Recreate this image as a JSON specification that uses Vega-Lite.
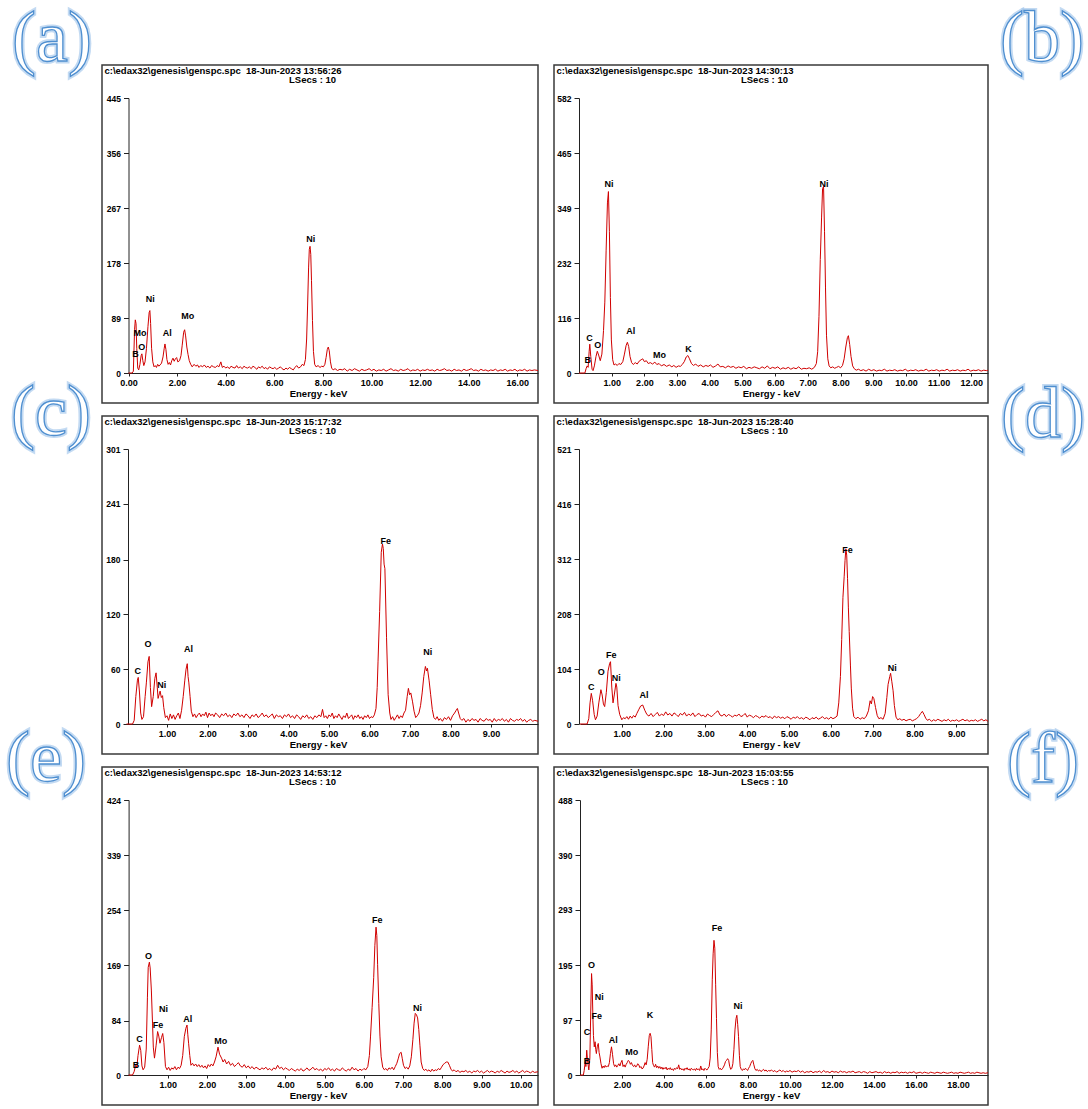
{
"$schema": "https://vega.github.io/schema/vega-lite/v6.json",
"background": "white",
"padding": {"left": 5, "top": 2, "right": 0, "bottom": 0},
"config": {
  "view": {"stroke": "#3a3a3a", "strokeWidth": 1.5},
  "axis": {"grid": false, "domainColor": "#222", "domainWidth": 1, "tickColor": "#222", "labelFont": "Liberation Sans", "labelFontWeight": "bold", "labelColor": "#000", "titleFont": "Liberation Sans", "titleFontWeight": "bold", "titleFontSize": 9.5, "titleColor": "#000", "labelFlush": false, "labelOverlap": false},
  "axisX": {"tickSize": 3, "labelFontSize": 9, "labelPadding": 2, "titlePadding": 1},
  "axisY": {"tickSize": 5, "labelFontSize": 8.5, "labelPadding": 3},
  "text": {"font": "Liberation Sans"}
},
"datasets": {
"A": [{"e":0,"c":0},{"e":0.15,"c":0},{"e":0.2,"c":3},{"e":0.22,"c":30},{"e":0.25,"c":70},{"e":0.28,"c":86},{"e":0.31,"c":80},{"e":0.34,"c":40},{"e":0.38,"c":8},{"e":0.42,"c":5},{"e":0.47,"c":14},{"e":0.52,"c":28},{"e":0.55,"c":31},{"e":0.59,"c":20},{"e":0.63,"c":12},{"e":0.68,"c":18},{"e":0.74,"c":40},{"e":0.8,"c":75},{"e":0.85,"c":98},{"e":0.88,"c":101},{"e":0.91,"c":80},{"e":0.95,"c":40},{"e":1.0,"c":18},{"e":1.05,"c":10},{"e":1.1,"c":12},{"e":1.15,"c":9},{"e":1.2,"c":14},{"e":1.25,"c":11},{"e":1.3,"c":13},{"e":1.36,"c":16},{"e":1.42,"c":26},{"e":1.47,"c":40},{"e":1.5,"c":47},{"e":1.54,"c":38},{"e":1.58,"c":22},{"e":1.63,"c":14},{"e":1.68,"c":17},{"e":1.73,"c":13},{"e":1.78,"c":20},{"e":1.83,"c":24},{"e":1.88,"c":19},{"e":1.93,"c":23},{"e":1.98,"c":25},{"e":2.03,"c":18},{"e":2.1,"c":20},{"e":2.16,"c":28},{"e":2.21,"c":45},{"e":2.27,"c":66},{"e":2.31,"c":70},{"e":2.35,"c":60},{"e":2.4,"c":42},{"e":2.45,"c":30},{"e":2.5,"c":20},{"e":2.56,"c":14},{"e":2.62,"c":10},{"e":2.7,"c":14},{"e":2.77,"c":11},{"e":2.84,"c":13},{"e":2.9,"c":9},{"e":2.97,"c":12},{"e":3.05,"c":10},{"e":3.12,"c":13},{"e":3.2,"c":9},{"e":3.27,"c":11},{"e":3.35,"c":8},{"e":3.42,"c":12},{"e":3.5,"c":10},{"e":3.58,"c":9},{"e":3.65,"c":12},{"e":3.72,"c":10},{"e":3.8,"c":18},{"e":3.86,"c":9},{"e":3.93,"c":11},{"e":4.0,"c":8},{"e":4.08,"c":10},{"e":4.15,"c":7},{"e":4.22,"c":11},{"e":4.3,"c":9},{"e":4.38,"c":8},{"e":4.45,"c":12},{"e":4.52,"c":8},{"e":4.6,"c":10},{"e":4.68,"c":7},{"e":4.75,"c":11},{"e":4.82,"c":9},{"e":4.9,"c":8},{"e":4.97,"c":10},{"e":5.05,"c":7},{"e":5.12,"c":11},{"e":5.2,"c":9},{"e":5.28,"c":6},{"e":5.35,"c":10},{"e":5.42,"c":8},{"e":5.5,"c":11},{"e":5.58,"c":7},{"e":5.65,"c":9},{"e":5.72,"c":6},{"e":5.8,"c":10},{"e":5.88,"c":8},{"e":5.95,"c":7},{"e":6.02,"c":9},{"e":6.1,"c":6},{"e":6.18,"c":8},{"e":6.25,"c":10},{"e":6.32,"c":7},{"e":6.4,"c":5},{"e":6.48,"c":8},{"e":6.55,"c":6},{"e":6.62,"c":9},{"e":6.7,"c":7},{"e":6.78,"c":5},{"e":6.85,"c":9},{"e":6.92,"c":12},{"e":7.0,"c":8},{"e":7.08,"c":10},{"e":7.15,"c":14},{"e":7.22,"c":12},{"e":7.28,"c":22},{"e":7.33,"c":55},{"e":7.37,"c":110},{"e":7.41,"c":170},{"e":7.44,"c":200},{"e":7.47,"c":205},{"e":7.5,"c":192},{"e":7.53,"c":150},{"e":7.57,"c":85},{"e":7.61,"c":35},{"e":7.66,"c":14},{"e":7.72,"c":10},{"e":7.8,"c":12},{"e":7.88,"c":9},{"e":7.95,"c":11},{"e":8.02,"c":10},{"e":8.08,"c":14},{"e":8.13,"c":25},{"e":8.18,"c":38},{"e":8.22,"c":42},{"e":8.26,"c":36},{"e":8.31,"c":18},{"e":8.36,"c":8},{"e":8.42,"c":5},{"e":8.5,"c":7},{"e":8.6,"c":4},{"e":8.7,"c":6},{"e":8.8,"c":5},{"e":8.9,"c":7},{"e":9.0,"c":3},{"e":9.1,"c":6},{"e":9.2,"c":4},{"e":9.3,"c":7},{"e":9.4,"c":5},{"e":9.5,"c":3},{"e":9.6,"c":6},{"e":9.7,"c":4},{"e":9.8,"c":5},{"e":9.9,"c":7},{"e":10.0,"c":4},{"e":10.1,"c":6},{"e":10.2,"c":3},{"e":10.3,"c":5},{"e":10.4,"c":4},{"e":10.5,"c":6},{"e":10.6,"c":3},{"e":10.7,"c":5},{"e":10.8,"c":7},{"e":10.9,"c":4},{"e":11.0,"c":5},{"e":11.1,"c":3},{"e":11.2,"c":6},{"e":11.3,"c":4},{"e":11.4,"c":5},{"e":11.5,"c":7},{"e":11.6,"c":3},{"e":11.7,"c":5},{"e":11.8,"c":4},{"e":11.9,"c":6},{"e":12.0,"c":3},{"e":12.1,"c":5},{"e":12.2,"c":4},{"e":12.3,"c":6},{"e":12.4,"c":4},{"e":12.5,"c":5},{"e":12.6,"c":3},{"e":12.7,"c":6},{"e":12.8,"c":4},{"e":12.9,"c":5},{"e":13.0,"c":7},{"e":13.1,"c":4},{"e":13.2,"c":5},{"e":13.3,"c":3},{"e":13.4,"c":6},{"e":13.5,"c":4},{"e":13.6,"c":5},{"e":13.7,"c":3},{"e":13.8,"c":6},{"e":13.9,"c":4},{"e":14.0,"c":5},{"e":14.1,"c":7},{"e":14.2,"c":4},{"e":14.3,"c":5},{"e":14.4,"c":3},{"e":14.5,"c":6},{"e":14.6,"c":4},{"e":14.7,"c":5},{"e":14.8,"c":3},{"e":14.9,"c":5},{"e":15.0,"c":4},{"e":15.1,"c":6},{"e":15.2,"c":3},{"e":15.3,"c":5},{"e":15.4,"c":4},{"e":15.5,"c":6},{"e":15.6,"c":3},{"e":15.7,"c":5},{"e":15.8,"c":4},{"e":15.9,"c":6},{"e":16.0,"c":3},{"e":16.1,"c":5},{"e":16.2,"c":4},{"e":16.3,"c":6},{"e":16.4,"c":3},{"e":16.5,"c":5},{"e":16.6,"c":4},{"e":16.7,"c":5},{"e":16.85,"c":4}],
"B": [{"e":0,"c":0},{"e":0.18,"c":0},{"e":0.22,"c":10},{"e":0.25,"c":15},{"e":0.28,"c":12},{"e":0.31,"c":45},{"e":0.33,"c":61},{"e":0.36,"c":35},{"e":0.4,"c":8},{"e":0.43,"c":5},{"e":0.47,"c":15},{"e":0.52,"c":35},{"e":0.56,"c":46},{"e":0.6,"c":38},{"e":0.65,"c":26},{"e":0.7,"c":40},{"e":0.75,"c":90},{"e":0.79,"c":150},{"e":0.83,"c":260},{"e":0.87,"c":360},{"e":0.9,"c":384},{"e":0.93,"c":300},{"e":0.96,"c":160},{"e":0.99,"c":70},{"e":1.03,"c":28},{"e":1.07,"c":17},{"e":1.12,"c":19},{"e":1.17,"c":16},{"e":1.22,"c":20},{"e":1.28,"c":18},{"e":1.34,"c":24},{"e":1.39,"c":40},{"e":1.44,"c":58},{"e":1.48,"c":65},{"e":1.52,"c":56},{"e":1.56,"c":35},{"e":1.61,"c":22},{"e":1.66,"c":18},{"e":1.72,"c":22},{"e":1.78,"c":19},{"e":1.84,"c":25},{"e":1.9,"c":28},{"e":1.95,"c":30},{"e":2.0,"c":24},{"e":2.06,"c":26},{"e":2.12,"c":20},{"e":2.18,"c":22},{"e":2.25,"c":19},{"e":2.32,"c":23},{"e":2.38,"c":18},{"e":2.45,"c":20},{"e":2.52,"c":15},{"e":2.6,"c":18},{"e":2.68,"c":14},{"e":2.76,"c":17},{"e":2.84,"c":13},{"e":2.9,"c":16},{"e":2.97,"c":12},{"e":3.04,"c":15},{"e":3.1,"c":14},{"e":3.16,"c":18},{"e":3.22,"c":24},{"e":3.28,"c":34},{"e":3.33,"c":37},{"e":3.38,"c":30},{"e":3.44,"c":20},{"e":3.5,"c":16},{"e":3.57,"c":19},{"e":3.64,"c":14},{"e":3.72,"c":17},{"e":3.8,"c":13},{"e":3.88,"c":16},{"e":3.95,"c":14},{"e":4.02,"c":17},{"e":4.1,"c":12},{"e":4.18,"c":15},{"e":4.25,"c":19},{"e":4.32,"c":13},{"e":4.4,"c":14},{"e":4.48,"c":11},{"e":4.56,"c":15},{"e":4.64,"c":12},{"e":4.72,"c":14},{"e":4.8,"c":10},{"e":4.88,"c":13},{"e":4.96,"c":11},{"e":5.04,"c":14},{"e":5.12,"c":9},{"e":5.2,"c":12},{"e":5.28,"c":10},{"e":5.36,"c":13},{"e":5.44,"c":11},{"e":5.52,"c":9},{"e":5.6,"c":13},{"e":5.68,"c":10},{"e":5.76,"c":15},{"e":5.84,"c":9},{"e":5.92,"c":12},{"e":6.0,"c":10},{"e":6.08,"c":13},{"e":6.16,"c":8},{"e":6.24,"c":11},{"e":6.32,"c":9},{"e":6.4,"c":12},{"e":6.48,"c":8},{"e":6.56,"c":11},{"e":6.64,"c":9},{"e":6.72,"c":13},{"e":6.8,"c":8},{"e":6.88,"c":10},{"e":6.96,"c":9},{"e":7.04,"c":11},{"e":7.12,"c":8},{"e":7.2,"c":12},{"e":7.26,"c":20},{"e":7.3,"c":45},{"e":7.34,"c":120},{"e":7.38,"c":240},{"e":7.42,"c":330},{"e":7.45,"c":390},{"e":7.48,"c":395},{"e":7.51,"c":300},{"e":7.54,"c":180},{"e":7.57,"c":80},{"e":7.61,"c":30},{"e":7.65,"c":15},{"e":7.7,"c":11},{"e":7.76,"c":13},{"e":7.82,"c":10},{"e":7.88,"c":12},{"e":7.94,"c":14},{"e":8.0,"c":11},{"e":8.06,"c":16},{"e":8.11,"c":30},{"e":8.16,"c":55},{"e":8.21,"c":75},{"e":8.24,"c":79},{"e":8.28,"c":60},{"e":8.32,"c":35},{"e":8.37,"c":15},{"e":8.42,"c":9},{"e":8.48,"c":6},{"e":8.55,"c":8},{"e":8.62,"c":5},{"e":8.7,"c":7},{"e":8.78,"c":4},{"e":8.86,"c":8},{"e":8.94,"c":5},{"e":9.02,"c":7},{"e":9.1,"c":4},{"e":9.18,"c":6},{"e":9.26,"c":5},{"e":9.34,"c":8},{"e":9.42,"c":4},{"e":9.5,"c":6},{"e":9.58,"c":5},{"e":9.66,"c":7},{"e":9.74,"c":4},{"e":9.82,"c":6},{"e":9.9,"c":5},{"e":9.98,"c":8},{"e":10.06,"c":4},{"e":10.14,"c":6},{"e":10.22,"c":5},{"e":10.3,"c":7},{"e":10.38,"c":4},{"e":10.46,"c":6},{"e":10.54,"c":5},{"e":10.62,"c":8},{"e":10.7,"c":4},{"e":10.78,"c":6},{"e":10.86,"c":5},{"e":10.94,"c":7},{"e":11.02,"c":4},{"e":11.1,"c":6},{"e":11.18,"c":5},{"e":11.26,"c":8},{"e":11.34,"c":4},{"e":11.42,"c":6},{"e":11.5,"c":5},{"e":11.58,"c":7},{"e":11.66,"c":4},{"e":11.74,"c":6},{"e":11.82,"c":5},{"e":11.9,"c":8},{"e":11.98,"c":4},{"e":12.06,"c":6},{"e":12.14,"c":5},{"e":12.22,"c":7},{"e":12.3,"c":4},{"e":12.38,"c":6},{"e":12.46,"c":5},{"e":12.51,"c":6}],
"C": [{"e":0,"c":0},{"e":0.15,"c":0},{"e":0.19,"c":4},{"e":0.23,"c":30},{"e":0.27,"c":48},{"e":0.29,"c":51},{"e":0.32,"c":35},{"e":0.35,"c":12},{"e":0.38,"c":5},{"e":0.42,"c":8},{"e":0.46,"c":30},{"e":0.49,"c":45},{"e":0.53,"c":68},{"e":0.56,"c":74},{"e":0.59,"c":40},{"e":0.62,"c":19},{"e":0.66,"c":30},{"e":0.7,"c":50},{"e":0.73,"c":56},{"e":0.76,"c":40},{"e":0.78,"c":28},{"e":0.81,"c":33},{"e":0.83,"c":36},{"e":0.86,"c":29},{"e":0.89,"c":31},{"e":0.92,"c":18},{"e":0.96,"c":7},{"e":1.0,"c":9},{"e":1.04,"c":4},{"e":1.08,"c":11},{"e":1.12,"c":6},{"e":1.16,"c":10},{"e":1.2,"c":5},{"e":1.24,"c":9},{"e":1.28,"c":12},{"e":1.32,"c":6},{"e":1.36,"c":15},{"e":1.4,"c":30},{"e":1.44,"c":48},{"e":1.47,"c":60},{"e":1.5,"c":66},{"e":1.52,"c":52},{"e":1.54,"c":45},{"e":1.57,"c":30},{"e":1.6,"c":14},{"e":1.64,"c":8},{"e":1.68,"c":11},{"e":1.72,"c":7},{"e":1.76,"c":10},{"e":1.8,"c":12},{"e":1.84,"c":8},{"e":1.88,"c":11},{"e":1.92,"c":9},{"e":1.96,"c":13},{"e":2.0,"c":7},{"e":2.04,"c":12},{"e":2.08,"c":9},{"e":2.12,"c":11},{"e":2.16,"c":8},{"e":2.2,"c":12},{"e":2.25,"c":10},{"e":2.3,"c":7},{"e":2.35,"c":11},{"e":2.4,"c":9},{"e":2.45,"c":12},{"e":2.5,"c":8},{"e":2.55,"c":10},{"e":2.6,"c":7},{"e":2.65,"c":11},{"e":2.7,"c":9},{"e":2.75,"c":12},{"e":2.8,"c":8},{"e":2.85,"c":10},{"e":2.9,"c":7},{"e":2.95,"c":11},{"e":3.0,"c":9},{"e":3.05,"c":6},{"e":3.1,"c":10},{"e":3.15,"c":8},{"e":3.2,"c":11},{"e":3.25,"c":7},{"e":3.3,"c":9},{"e":3.35,"c":12},{"e":3.4,"c":8},{"e":3.45,"c":10},{"e":3.5,"c":7},{"e":3.55,"c":9},{"e":3.6,"c":11},{"e":3.65,"c":6},{"e":3.7,"c":10},{"e":3.75,"c":8},{"e":3.8,"c":9},{"e":3.85,"c":6},{"e":3.9,"c":10},{"e":3.95,"c":8},{"e":4.0,"c":11},{"e":4.05,"c":7},{"e":4.1,"c":9},{"e":4.15,"c":6},{"e":4.2,"c":10},{"e":4.25,"c":8},{"e":4.3,"c":5},{"e":4.35,"c":9},{"e":4.4,"c":7},{"e":4.45,"c":10},{"e":4.5,"c":6},{"e":4.55,"c":8},{"e":4.6,"c":5},{"e":4.65,"c":9},{"e":4.7,"c":7},{"e":4.75,"c":10},{"e":4.8,"c":8},{"e":4.84,"c":16},{"e":4.88,"c":7},{"e":4.92,"c":9},{"e":4.96,"c":6},{"e":5.0,"c":10},{"e":5.04,"c":8},{"e":5.08,"c":12},{"e":5.12,"c":6},{"e":5.16,"c":9},{"e":5.2,"c":7},{"e":5.24,"c":11},{"e":5.28,"c":8},{"e":5.32,"c":5},{"e":5.36,"c":9},{"e":5.4,"c":7},{"e":5.44,"c":12},{"e":5.48,"c":6},{"e":5.52,"c":8},{"e":5.56,"c":10},{"e":5.6,"c":5},{"e":5.64,"c":9},{"e":5.68,"c":7},{"e":5.72,"c":10},{"e":5.76,"c":6},{"e":5.8,"c":8},{"e":5.84,"c":5},{"e":5.88,"c":9},{"e":5.92,"c":7},{"e":5.96,"c":10},{"e":6.0,"c":6},{"e":6.04,"c":8},{"e":6.08,"c":7},{"e":6.12,"c":10},{"e":6.16,"c":17},{"e":6.19,"c":40},{"e":6.21,"c":68},{"e":6.25,"c":123},{"e":6.29,"c":188},{"e":6.32,"c":197},{"e":6.34,"c":192},{"e":6.36,"c":175},{"e":6.38,"c":170},{"e":6.42,"c":95},{"e":6.46,"c":32},{"e":6.5,"c":12},{"e":6.53,"c":5},{"e":6.57,"c":8},{"e":6.61,"c":4},{"e":6.65,"c":7},{"e":6.69,"c":10},{"e":6.73,"c":6},{"e":6.77,"c":9},{"e":6.81,"c":7},{"e":6.85,"c":12},{"e":6.89,"c":15},{"e":6.93,"c":30},{"e":6.96,"c":39},{"e":6.99,"c":32},{"e":7.02,"c":34},{"e":7.06,"c":25},{"e":7.1,"c":14},{"e":7.14,"c":7},{"e":7.18,"c":9},{"e":7.22,"c":12},{"e":7.26,"c":20},{"e":7.3,"c":34},{"e":7.34,"c":52},{"e":7.38,"c":63},{"e":7.41,"c":58},{"e":7.43,"c":61},{"e":7.47,"c":48},{"e":7.51,"c":32},{"e":7.55,"c":16},{"e":7.59,"c":7},{"e":7.63,"c":5},{"e":7.67,"c":8},{"e":7.71,"c":4},{"e":7.75,"c":6},{"e":7.8,"c":3},{"e":7.85,"c":7},{"e":7.9,"c":5},{"e":7.95,"c":8},{"e":8.0,"c":4},{"e":8.05,"c":9},{"e":8.1,"c":12},{"e":8.14,"c":15},{"e":8.17,"c":17},{"e":8.2,"c":12},{"e":8.24,"c":6},{"e":8.28,"c":4},{"e":8.33,"c":6},{"e":8.38,"c":2},{"e":8.43,"c":5},{"e":8.48,"c":3},{"e":8.53,"c":6},{"e":8.58,"c":4},{"e":8.63,"c":5},{"e":8.68,"c":2},{"e":8.73,"c":6},{"e":8.78,"c":4},{"e":8.83,"c":3},{"e":8.88,"c":6},{"e":8.93,"c":4},{"e":8.98,"c":5},{"e":9.03,"c":2},{"e":9.08,"c":6},{"e":9.13,"c":3},{"e":9.18,"c":5},{"e":9.23,"c":4},{"e":9.28,"c":6},{"e":9.33,"c":3},{"e":9.38,"c":5},{"e":9.43,"c":2},{"e":9.48,"c":6},{"e":9.53,"c":4},{"e":9.58,"c":3},{"e":9.63,"c":5},{"e":9.68,"c":4},{"e":9.73,"c":6},{"e":9.78,"c":3},{"e":9.83,"c":5},{"e":9.88,"c":2},{"e":9.93,"c":4},{"e":9.98,"c":5},{"e":10.03,"c":3},{"e":10.08,"c":4},{"e":10.16,"c":3}],
"D": [{"e":0,"c":0},{"e":0.17,"c":0},{"e":0.21,"c":10},{"e":0.24,"c":40},{"e":0.27,"c":58},{"e":0.3,"c":45},{"e":0.34,"c":18},{"e":0.37,"c":8},{"e":0.41,"c":15},{"e":0.45,"c":40},{"e":0.5,"c":65},{"e":0.53,"c":55},{"e":0.56,"c":38},{"e":0.59,"c":33},{"e":0.63,"c":60},{"e":0.67,"c":100},{"e":0.71,"c":115},{"e":0.73,"c":118},{"e":0.76,"c":70},{"e":0.79,"c":40},{"e":0.82,"c":55},{"e":0.86,"c":77},{"e":0.88,"c":70},{"e":0.91,"c":35},{"e":0.95,"c":18},{"e":1.0,"c":8},{"e":1.04,"c":12},{"e":1.08,"c":10},{"e":1.12,"c":14},{"e":1.16,"c":9},{"e":1.2,"c":15},{"e":1.24,"c":11},{"e":1.28,"c":16},{"e":1.32,"c":13},{"e":1.36,"c":20},{"e":1.41,"c":28},{"e":1.45,"c":34},{"e":1.5,"c":36},{"e":1.55,"c":26},{"e":1.6,"c":18},{"e":1.65,"c":15},{"e":1.7,"c":20},{"e":1.75,"c":14},{"e":1.8,"c":18},{"e":1.85,"c":22},{"e":1.9,"c":15},{"e":1.95,"c":19},{"e":2.0,"c":16},{"e":2.05,"c":23},{"e":2.1,"c":17},{"e":2.15,"c":20},{"e":2.2,"c":15},{"e":2.25,"c":21},{"e":2.3,"c":18},{"e":2.35,"c":14},{"e":2.4,"c":20},{"e":2.45,"c":17},{"e":2.5,"c":22},{"e":2.55,"c":15},{"e":2.6,"c":19},{"e":2.65,"c":16},{"e":2.7,"c":21},{"e":2.75,"c":14},{"e":2.8,"c":18},{"e":2.85,"c":20},{"e":2.9,"c":15},{"e":2.95,"c":17},{"e":3.0,"c":13},{"e":3.05,"c":19},{"e":3.1,"c":16},{"e":3.15,"c":14},{"e":3.2,"c":18},{"e":3.25,"c":22},{"e":3.3,"c":25},{"e":3.35,"c":17},{"e":3.4,"c":15},{"e":3.45,"c":19},{"e":3.5,"c":14},{"e":3.55,"c":18},{"e":3.6,"c":16},{"e":3.65,"c":13},{"e":3.7,"c":17},{"e":3.75,"c":15},{"e":3.8,"c":19},{"e":3.85,"c":14},{"e":3.9,"c":16},{"e":3.95,"c":20},{"e":4.0,"c":13},{"e":4.05,"c":17},{"e":4.1,"c":15},{"e":4.15,"c":12},{"e":4.2,"c":16},{"e":4.25,"c":14},{"e":4.3,"c":11},{"e":4.35,"c":15},{"e":4.4,"c":13},{"e":4.45,"c":16},{"e":4.5,"c":12},{"e":4.55,"c":14},{"e":4.6,"c":10},{"e":4.65,"c":15},{"e":4.7,"c":12},{"e":4.75,"c":14},{"e":4.8,"c":11},{"e":4.85,"c":13},{"e":4.9,"c":10},{"e":4.95,"c":14},{"e":5.0,"c":12},{"e":5.05,"c":9},{"e":5.1,"c":13},{"e":5.15,"c":11},{"e":5.2,"c":14},{"e":5.25,"c":10},{"e":5.3,"c":12},{"e":5.35,"c":9},{"e":5.4,"c":13},{"e":5.45,"c":11},{"e":5.5,"c":8},{"e":5.55,"c":12},{"e":5.6,"c":10},{"e":5.65,"c":13},{"e":5.7,"c":9},{"e":5.75,"c":11},{"e":5.8,"c":14},{"e":5.85,"c":10},{"e":5.9,"c":12},{"e":5.95,"c":9},{"e":6.0,"c":13},{"e":6.05,"c":10},{"e":6.1,"c":12},{"e":6.15,"c":15},{"e":6.19,"c":40},{"e":6.23,"c":90},{"e":6.26,"c":160},{"e":6.29,"c":240},{"e":6.32,"c":280},{"e":6.34,"c":310},{"e":6.36,"c":332},{"e":6.38,"c":320},{"e":6.4,"c":276},{"e":6.42,"c":220},{"e":6.44,"c":175},{"e":6.47,"c":110},{"e":6.49,"c":68},{"e":6.52,"c":30},{"e":6.55,"c":14},{"e":6.6,"c":10},{"e":6.65,"c":13},{"e":6.7,"c":9},{"e":6.75,"c":12},{"e":6.8,"c":10},{"e":6.85,"c":15},{"e":6.9,"c":25},{"e":6.94,"c":44},{"e":6.97,"c":38},{"e":7.0,"c":52},{"e":7.03,"c":48},{"e":7.07,"c":31},{"e":7.11,"c":16},{"e":7.15,"c":10},{"e":7.2,"c":12},{"e":7.25,"c":9},{"e":7.3,"c":20},{"e":7.34,"c":50},{"e":7.37,"c":75},{"e":7.41,"c":90},{"e":7.43,"c":96},{"e":7.46,"c":80},{"e":7.49,"c":63},{"e":7.52,"c":35},{"e":7.56,"c":13},{"e":7.6,"c":8},{"e":7.65,"c":10},{"e":7.7,"c":7},{"e":7.75,"c":9},{"e":7.8,"c":6},{"e":7.85,"c":8},{"e":7.9,"c":9},{"e":7.95,"c":6},{"e":8.0,"c":8},{"e":8.05,"c":10},{"e":8.1,"c":14},{"e":8.15,"c":20},{"e":8.19,"c":24},{"e":8.23,"c":18},{"e":8.27,"c":11},{"e":8.31,"c":7},{"e":8.36,"c":9},{"e":8.41,"c":5},{"e":8.46,"c":8},{"e":8.51,"c":6},{"e":8.56,"c":9},{"e":8.61,"c":7},{"e":8.66,"c":5},{"e":8.71,"c":8},{"e":8.76,"c":6},{"e":8.81,"c":9},{"e":8.86,"c":5},{"e":8.91,"c":7},{"e":8.96,"c":6},{"e":9.01,"c":8},{"e":9.06,"c":5},{"e":9.11,"c":7},{"e":9.16,"c":9},{"e":9.21,"c":6},{"e":9.26,"c":8},{"e":9.31,"c":5},{"e":9.36,"c":7},{"e":9.41,"c":6},{"e":9.46,"c":8},{"e":9.51,"c":5},{"e":9.56,"c":7},{"e":9.61,"c":9},{"e":9.66,"c":6},{"e":9.71,"c":8},{"e":9.76,"c":5}],
"E": [{"e":0,"c":0},{"e":0.1,"c":0},{"e":0.14,"c":5},{"e":0.18,"c":15},{"e":0.21,"c":12},{"e":0.24,"c":30},{"e":0.28,"c":46},{"e":0.31,"c":38},{"e":0.34,"c":14},{"e":0.37,"c":8},{"e":0.41,"c":12},{"e":0.45,"c":40},{"e":0.48,"c":120},{"e":0.5,"c":166},{"e":0.53,"c":174},{"e":0.55,"c":165},{"e":0.58,"c":131},{"e":0.61,"c":80},{"e":0.63,"c":43},{"e":0.66,"c":26},{"e":0.7,"c":45},{"e":0.74,"c":67},{"e":0.77,"c":60},{"e":0.8,"c":49},{"e":0.84,"c":58},{"e":0.87,"c":64},{"e":0.9,"c":50},{"e":0.94,"c":13},{"e":0.98,"c":8},{"e":1.02,"c":12},{"e":1.06,"c":7},{"e":1.1,"c":11},{"e":1.14,"c":9},{"e":1.18,"c":13},{"e":1.22,"c":8},{"e":1.26,"c":12},{"e":1.3,"c":10},{"e":1.34,"c":15},{"e":1.38,"c":30},{"e":1.42,"c":59},{"e":1.46,"c":72},{"e":1.49,"c":77},{"e":1.51,"c":62},{"e":1.53,"c":49},{"e":1.56,"c":30},{"e":1.59,"c":15},{"e":1.63,"c":18},{"e":1.67,"c":14},{"e":1.71,"c":17},{"e":1.75,"c":13},{"e":1.79,"c":16},{"e":1.83,"c":12},{"e":1.87,"c":15},{"e":1.91,"c":11},{"e":1.95,"c":14},{"e":1.99,"c":10},{"e":2.03,"c":16},{"e":2.07,"c":13},{"e":2.11,"c":17},{"e":2.15,"c":14},{"e":2.19,"c":20},{"e":2.23,"c":28},{"e":2.28,"c":43},{"e":2.32,"c":32},{"e":2.37,"c":26},{"e":2.41,"c":20},{"e":2.45,"c":24},{"e":2.5,"c":17},{"e":2.55,"c":21},{"e":2.6,"c":15},{"e":2.65,"c":18},{"e":2.7,"c":13},{"e":2.75,"c":16},{"e":2.8,"c":19},{"e":2.85,"c":14},{"e":2.9,"c":12},{"e":2.95,"c":16},{"e":3.0,"c":11},{"e":3.05,"c":14},{"e":3.1,"c":10},{"e":3.15,"c":13},{"e":3.2,"c":9},{"e":3.25,"c":12},{"e":3.3,"c":10},{"e":3.35,"c":8},{"e":3.4,"c":11},{"e":3.45,"c":9},{"e":3.5,"c":12},{"e":3.55,"c":8},{"e":3.6,"c":10},{"e":3.65,"c":7},{"e":3.7,"c":11},{"e":3.75,"c":9},{"e":3.8,"c":15},{"e":3.85,"c":10},{"e":3.9,"c":12},{"e":3.95,"c":8},{"e":4.0,"c":11},{"e":4.05,"c":9},{"e":4.1,"c":7},{"e":4.15,"c":10},{"e":4.2,"c":8},{"e":4.25,"c":6},{"e":4.3,"c":9},{"e":4.35,"c":7},{"e":4.4,"c":10},{"e":4.45,"c":6},{"e":4.5,"c":8},{"e":4.55,"c":11},{"e":4.6,"c":7},{"e":4.65,"c":9},{"e":4.7,"c":12},{"e":4.75,"c":8},{"e":4.8,"c":10},{"e":4.85,"c":7},{"e":4.9,"c":9},{"e":4.95,"c":6},{"e":5.0,"c":10},{"e":5.05,"c":8},{"e":5.1,"c":11},{"e":5.15,"c":7},{"e":5.2,"c":9},{"e":5.25,"c":6},{"e":5.3,"c":10},{"e":5.35,"c":8},{"e":5.4,"c":7},{"e":5.45,"c":11},{"e":5.5,"c":8},{"e":5.55,"c":6},{"e":5.6,"c":9},{"e":5.65,"c":7},{"e":5.7,"c":12},{"e":5.75,"c":8},{"e":5.8,"c":10},{"e":5.85,"c":6},{"e":5.9,"c":9},{"e":5.95,"c":7},{"e":6.0,"c":10},{"e":6.05,"c":8},{"e":6.1,"c":13},{"e":6.14,"c":30},{"e":6.17,"c":60},{"e":6.21,"c":104},{"e":6.25,"c":150},{"e":6.28,"c":200},{"e":6.31,"c":228},{"e":6.33,"c":215},{"e":6.35,"c":170},{"e":6.38,"c":110},{"e":6.41,"c":60},{"e":6.44,"c":28},{"e":6.48,"c":12},{"e":6.52,"c":8},{"e":6.56,"c":10},{"e":6.6,"c":7},{"e":6.64,"c":11},{"e":6.68,"c":9},{"e":6.72,"c":12},{"e":6.76,"c":8},{"e":6.8,"c":13},{"e":6.84,"c":18},{"e":6.88,"c":26},{"e":6.91,"c":33},{"e":6.95,"c":35},{"e":6.98,"c":25},{"e":7.01,"c":15},{"e":7.05,"c":10},{"e":7.09,"c":12},{"e":7.13,"c":9},{"e":7.17,"c":14},{"e":7.21,"c":28},{"e":7.25,"c":55},{"e":7.28,"c":80},{"e":7.31,"c":95},{"e":7.34,"c":93},{"e":7.37,"c":88},{"e":7.4,"c":70},{"e":7.43,"c":45},{"e":7.46,"c":20},{"e":7.5,"c":10},{"e":7.54,"c":7},{"e":7.58,"c":9},{"e":7.62,"c":6},{"e":7.66,"c":8},{"e":7.7,"c":5},{"e":7.74,"c":9},{"e":7.78,"c":6},{"e":7.82,"c":8},{"e":7.86,"c":7},{"e":7.9,"c":10},{"e":7.94,"c":8},{"e":7.98,"c":12},{"e":8.02,"c":16},{"e":8.06,"c":18},{"e":8.1,"c":20},{"e":8.14,"c":20},{"e":8.18,"c":15},{"e":8.22,"c":9},{"e":8.26,"c":6},{"e":8.3,"c":8},{"e":8.35,"c":5},{"e":8.4,"c":7},{"e":8.45,"c":4},{"e":8.5,"c":6},{"e":8.55,"c":5},{"e":8.6,"c":7},{"e":8.65,"c":4},{"e":8.7,"c":6},{"e":8.75,"c":3},{"e":8.8,"c":6},{"e":8.85,"c":5},{"e":8.9,"c":7},{"e":8.95,"c":4},{"e":9.0,"c":6},{"e":9.05,"c":3},{"e":9.1,"c":5},{"e":9.15,"c":7},{"e":9.2,"c":4},{"e":9.25,"c":6},{"e":9.3,"c":5},{"e":9.35,"c":3},{"e":9.4,"c":6},{"e":9.45,"c":4},{"e":9.5,"c":7},{"e":9.55,"c":5},{"e":9.6,"c":3},{"e":9.65,"c":6},{"e":9.7,"c":4},{"e":9.75,"c":5},{"e":9.8,"c":7},{"e":9.85,"c":4},{"e":9.9,"c":6},{"e":9.95,"c":3},{"e":10.0,"c":5},{"e":10.05,"c":7},{"e":10.1,"c":4},{"e":10.15,"c":6},{"e":10.2,"c":5},{"e":10.25,"c":3},{"e":10.3,"c":6},{"e":10.35,"c":4},{"e":10.44,"c":5}],
"F": [{"e":0,"c":0},{"e":0.16,"c":0},{"e":0.2,"c":8},{"e":0.25,"c":24},{"e":0.28,"c":15},{"e":0.32,"c":44},{"e":0.36,"c":25},{"e":0.42,"c":9},{"e":0.47,"c":30},{"e":0.51,"c":110},{"e":0.55,"c":180},{"e":0.58,"c":160},{"e":0.61,"c":110},{"e":0.64,"c":70},{"e":0.68,"c":50},{"e":0.72,"c":59},{"e":0.75,"c":45},{"e":0.78,"c":38},{"e":0.82,"c":50},{"e":0.87,"c":56},{"e":0.91,"c":40},{"e":0.95,"c":32},{"e":1.0,"c":20},{"e":1.05,"c":12},{"e":1.1,"c":16},{"e":1.15,"c":13},{"e":1.2,"c":17},{"e":1.25,"c":14},{"e":1.3,"c":16},{"e":1.35,"c":15},{"e":1.4,"c":22},{"e":1.45,"c":38},{"e":1.5,"c":50},{"e":1.55,"c":36},{"e":1.6,"c":20},{"e":1.65,"c":15},{"e":1.7,"c":18},{"e":1.75,"c":14},{"e":1.8,"c":17},{"e":1.85,"c":20},{"e":1.9,"c":16},{"e":1.95,"c":22},{"e":2.0,"c":26},{"e":2.05,"c":15},{"e":2.1,"c":18},{"e":2.15,"c":14},{"e":2.2,"c":19},{"e":2.25,"c":22},{"e":2.3,"c":26},{"e":2.35,"c":24},{"e":2.4,"c":19},{"e":2.45,"c":22},{"e":2.5,"c":17},{"e":2.55,"c":15},{"e":2.6,"c":18},{"e":2.65,"c":14},{"e":2.7,"c":16},{"e":2.75,"c":20},{"e":2.8,"c":18},{"e":2.85,"c":13},{"e":2.9,"c":15},{"e":2.95,"c":11},{"e":3.0,"c":12},{"e":3.05,"c":16},{"e":3.1,"c":22},{"e":3.15,"c":18},{"e":3.2,"c":28},{"e":3.25,"c":50},{"e":3.3,"c":70},{"e":3.34,"c":74},{"e":3.38,"c":68},{"e":3.42,"c":45},{"e":3.46,"c":22},{"e":3.5,"c":17},{"e":3.55,"c":14},{"e":3.6,"c":19},{"e":3.65,"c":13},{"e":3.7,"c":16},{"e":3.75,"c":12},{"e":3.8,"c":15},{"e":3.85,"c":11},{"e":3.9,"c":14},{"e":3.95,"c":10},{"e":4.0,"c":13},{"e":4.05,"c":11},{"e":4.1,"c":14},{"e":4.15,"c":9},{"e":4.2,"c":12},{"e":4.25,"c":10},{"e":4.3,"c":13},{"e":4.35,"c":9},{"e":4.4,"c":11},{"e":4.45,"c":8},{"e":4.5,"c":12},{"e":4.55,"c":10},{"e":4.6,"c":13},{"e":4.65,"c":11},{"e":4.7,"c":18},{"e":4.75,"c":10},{"e":4.8,"c":12},{"e":4.85,"c":9},{"e":4.9,"c":11},{"e":4.95,"c":8},{"e":5.0,"c":12},{"e":5.05,"c":10},{"e":5.1,"c":13},{"e":5.15,"c":9},{"e":5.2,"c":11},{"e":5.25,"c":8},{"e":5.3,"c":12},{"e":5.35,"c":10},{"e":5.4,"c":9},{"e":5.45,"c":11},{"e":5.5,"c":8},{"e":5.55,"c":12},{"e":5.6,"c":9},{"e":5.65,"c":11},{"e":5.7,"c":8},{"e":5.75,"c":16},{"e":5.8,"c":9},{"e":5.85,"c":11},{"e":5.9,"c":8},{"e":5.95,"c":12},{"e":6.0,"c":10},{"e":6.05,"c":9},{"e":6.1,"c":12},{"e":6.15,"c":15},{"e":6.2,"c":30},{"e":6.25,"c":80},{"e":6.3,"c":170},{"e":6.34,"c":215},{"e":6.38,"c":239},{"e":6.42,"c":225},{"e":6.46,"c":160},{"e":6.5,"c":100},{"e":6.54,"c":40},{"e":6.58,"c":15},{"e":6.63,"c":10},{"e":6.68,"c":12},{"e":6.73,"c":9},{"e":6.78,"c":11},{"e":6.83,"c":14},{"e":6.88,"c":18},{"e":6.93,"c":24},{"e":6.98,"c":26},{"e":7.03,"c":29},{"e":7.08,"c":26},{"e":7.13,"c":15},{"e":7.18,"c":10},{"e":7.23,"c":12},{"e":7.28,"c":20},{"e":7.33,"c":45},{"e":7.38,"c":80},{"e":7.43,"c":100},{"e":7.47,"c":106},{"e":7.51,"c":90},{"e":7.55,"c":68},{"e":7.59,"c":35},{"e":7.63,"c":15},{"e":7.68,"c":10},{"e":7.73,"c":8},{"e":7.78,"c":11},{"e":7.83,"c":9},{"e":7.88,"c":12},{"e":7.93,"c":10},{"e":7.98,"c":8},{"e":8.03,"c":12},{"e":8.08,"c":15},{"e":8.13,"c":20},{"e":8.18,"c":24},{"e":8.23,"c":26},{"e":8.28,"c":18},{"e":8.33,"c":11},{"e":8.38,"c":8},{"e":8.44,"c":10},{"e":8.5,"c":7},{"e":8.56,"c":9},{"e":8.62,"c":6},{"e":8.68,"c":8},{"e":8.74,"c":10},{"e":8.8,"c":7},{"e":8.86,"c":9},{"e":8.92,"c":6},{"e":8.98,"c":8},{"e":9.05,"c":7},{"e":9.12,"c":9},{"e":9.2,"c":6},{"e":9.28,"c":8},{"e":9.36,"c":5},{"e":9.44,"c":7},{"e":9.52,"c":9},{"e":9.6,"c":6},{"e":9.68,"c":8},{"e":9.76,"c":5},{"e":9.84,"c":7},{"e":9.92,"c":6},{"e":10.0,"c":8},{"e":10.1,"c":5},{"e":10.2,"c":7},{"e":10.3,"c":6},{"e":10.4,"c":8},{"e":10.5,"c":5},{"e":10.6,"c":7},{"e":10.7,"c":4},{"e":10.8,"c":6},{"e":10.9,"c":5},{"e":11.0,"c":7},{"e":11.1,"c":4},{"e":11.2,"c":6},{"e":11.3,"c":5},{"e":11.4,"c":7},{"e":11.5,"c":4},{"e":11.6,"c":8},{"e":11.7,"c":5},{"e":11.8,"c":6},{"e":11.9,"c":4},{"e":12.0,"c":7},{"e":12.1,"c":5},{"e":12.2,"c":6},{"e":12.3,"c":4},{"e":12.4,"c":7},{"e":12.5,"c":5},{"e":12.6,"c":6},{"e":12.7,"c":4},{"e":12.8,"c":6},{"e":12.9,"c":5},{"e":13.0,"c":7},{"e":13.1,"c":4},{"e":13.2,"c":5},{"e":13.3,"c":6},{"e":13.4,"c":4},{"e":13.5,"c":6},{"e":13.6,"c":5},{"e":13.7,"c":3},{"e":13.8,"c":6},{"e":13.9,"c":4},{"e":14.0,"c":5},{"e":14.1,"c":6},{"e":14.2,"c":4},{"e":14.3,"c":5},{"e":14.4,"c":3},{"e":14.5,"c":6},{"e":14.6,"c":4},{"e":14.7,"c":5},{"e":14.8,"c":3},{"e":14.9,"c":5},{"e":15.0,"c":4},{"e":15.1,"c":6},{"e":15.2,"c":3},{"e":15.3,"c":5},{"e":15.4,"c":4},{"e":15.5,"c":5},{"e":15.6,"c":3},{"e":15.7,"c":5},{"e":15.8,"c":4},{"e":15.9,"c":6},{"e":16.0,"c":3},{"e":16.1,"c":4},{"e":16.2,"c":5},{"e":16.3,"c":3},{"e":16.4,"c":5},{"e":16.5,"c":4},{"e":16.6,"c":3},{"e":16.7,"c":5},{"e":16.8,"c":4},{"e":16.9,"c":3},{"e":17.0,"c":5},{"e":17.1,"c":4},{"e":17.2,"c":3},{"e":17.3,"c":5},{"e":17.4,"c":4},{"e":17.5,"c":3},{"e":17.6,"c":4},{"e":17.7,"c":5},{"e":17.8,"c":3},{"e":17.9,"c":4},{"e":18.0,"c":3},{"e":18.1,"c":5},{"e":18.2,"c":4},{"e":18.3,"c":3},{"e":18.4,"c":4},{"e":18.5,"c":5},{"e":18.6,"c":3},{"e":18.7,"c":4},{"e":18.8,"c":3},{"e":18.9,"c":5},{"e":19.0,"c":4},{"e":19.1,"c":3},{"e":19.2,"c":4},{"e":19.3,"c":3},{"e":19.43,"c":4}],
"labels": [
{"p":"a","t":"B","e":0.29,"c":30},{"p":"a","t":"Mo","e":0.47,"c":64},{"p":"a","t":"O","e":0.55,"c":42},{"p":"a","t":"Ni","e":0.9,"c":120},{"p":"a","t":"Al","e":1.59,"c":64},{"p":"a","t":"Mo","e":2.44,"c":92},{"p":"a","t":"Ni","e":7.5,"c":217},
{"p":"b","t":"B","e":0.27,"c":28},{"p":"b","t":"C","e":0.32,"c":75},{"p":"b","t":"O","e":0.57,"c":59},{"p":"b","t":"Ni","e":0.92,"c":401},{"p":"b","t":"Al","e":1.58,"c":88},{"p":"b","t":"Mo","e":2.46,"c":38},{"p":"b","t":"K","e":3.35,"c":51},{"p":"b","t":"Ni","e":7.49,"c":401},
{"p":"c","t":"C","e":0.28,"c":58},{"p":"c","t":"O","e":0.53,"c":88},{"p":"c","t":"Ni","e":0.87,"c":43},{"p":"c","t":"Al","e":1.53,"c":82},{"p":"c","t":"Fe","e":6.4,"c":200},{"p":"c","t":"Ni","e":7.44,"c":79},
{"p":"d","t":"C","e":0.27,"c":71},{"p":"d","t":"O","e":0.51,"c":98},{"p":"d","t":"Fe","e":0.75,"c":130},{"p":"d","t":"Ni","e":0.87,"c":87},{"p":"d","t":"Al","e":1.53,"c":55},{"p":"d","t":"Fe","e":6.4,"c":329},{"p":"d","t":"Ni","e":7.47,"c":107},
{"p":"e","t":"B","e":0.19,"c":15},{"p":"e","t":"C","e":0.28,"c":55},{"p":"e","t":"O","e":0.51,"c":184},{"p":"e","t":"Fe","e":0.75,"c":77},{"p":"e","t":"Ni","e":0.89,"c":102},{"p":"e","t":"Al","e":1.51,"c":87},{"p":"e","t":"Mo","e":2.35,"c":53},{"p":"e","t":"Fe","e":6.34,"c":239},{"p":"e","t":"Ni","e":7.37,"c":104},
{"p":"f","t":"B","e":0.33,"c":24},{"p":"f","t":"C","e":0.33,"c":77},{"p":"f","t":"O","e":0.55,"c":195},{"p":"f","t":"Fe","e":0.8,"c":104},{"p":"f","t":"Ni","e":0.92,"c":138},{"p":"f","t":"Al","e":1.58,"c":62},{"p":"f","t":"Mo","e":2.47,"c":41},{"p":"f","t":"K","e":3.33,"c":106},{"p":"f","t":"Fe","e":6.53,"c":261},{"p":"f","t":"Ni","e":7.53,"c":122}
]
},
"columns": 2,
"spacing": {"row": 13, "column": 16},
"bounds": "flush",
"concat": [
{"width": 436, "height": 338, "layer": [
 {"data": {"name": "A"}, "mark": {"type": "line", "color": "#d00000", "strokeWidth": 1},
  "encoding": {"x": {"field": "e", "type": "quantitative", "scale": {"domain": [0, 16.85], "range": [26.5, 436], "nice": false, "zero": false}, "axis": {"values": [0,2,4,6,8,10,12,14,16], "tickCount": 20, "format": ".2f", "title": "Energy - keV", "offset": -30, "titleX": 216, "labelOverlap": false}},
   "y": {"field": "c", "type": "quantitative", "scale": {"domain": [0, 445], "range": [308, 33], "nice": false, "zero": false}, "axis": {"values": [0,89,178,267,356,445], "tickCount": 10, "format": "d", "title": null, "offset": -26.5, "labelOverlap": false}}}},
 {"data": {"name": "labels"}, "transform": [{"filter": "datum.p == 'a'"}], "mark": {"type": "text", "fontSize": 9, "fontWeight": "bold", "color": "#000"},
  "encoding": {"x": {"field": "e", "type": "quantitative"}, "y": {"field": "c", "type": "quantitative"}, "text": {"field": "t"}}},
 {"data": {"values": [{}]}, "mark": {"type": "text", "align": "left", "baseline": "middle", "fontSize": 9.5, "fontWeight": "bold", "color": "#000"},
  "encoding": {"x": {"datum": -0.988, "type": "quantitative"}, "y": {"datum": 488.7, "type": "quantitative"}, "text": {"value": "c:\\edax32\\genesis\\genspc.spc\u00a0 18-Jun-2023 13:56:26"}}},
 {"data": {"values": [{}]}, "mark": {"type": "text", "align": "left", "baseline": "middle", "fontSize": 9.5, "fontWeight": "bold", "color": "#000"},
  "encoding": {"x": {"datum": 6.605, "type": "quantitative"}, "y": {"datum": 474.1, "type": "quantitative"}, "text": {"value": "LSecs : 10"}}},
 {"data": {"values": [{}]}, "mark": {"type": "text", "align": "center", "baseline": "middle", "font": "Liberation Serif", "fontSize": 72, "fill": "#ffffff", "stroke": "#a9cbec", "strokeWidth": 5, "strokeOpacity": 0.7},
  "encoding": {"x": {"datum": -3.148, "type": "quantitative"}, "y": {"datum": 540.5, "type": "quantitative"}, "text": {"value": "(a)"}}},
 {"data": {"values": [{}]}, "mark": {"type": "text", "align": "center", "baseline": "middle", "font": "Liberation Serif", "fontSize": 72, "fill": "#ffffff", "stroke": "#4f8fd0", "strokeWidth": 1.3},
  "encoding": {"x": {"datum": -3.148, "type": "quantitative"}, "y": {"datum": 540.5, "type": "quantitative"}, "text": {"value": "(a)"}}}
]},
{"width": 434, "height": 338, "layer": [
 {"data": {"name": "B"}, "mark": {"type": "line", "color": "#d00000", "strokeWidth": 1},
  "encoding": {"x": {"field": "e", "type": "quantitative", "scale": {"domain": [0, 12.51], "range": [25, 434], "nice": false, "zero": false}, "axis": {"values": [1,2,3,4,5,6,7,8,9,10,11,12], "tickCount": 20, "format": ".2f", "title": "Energy - keV", "offset": -30, "titleX": 217, "labelOverlap": false}},
   "y": {"field": "c", "type": "quantitative", "scale": {"domain": [0, 582], "range": [308, 33], "nice": false, "zero": false}, "axis": {"values": [0,116,232,349,465,582], "tickCount": 10, "format": "d", "title": null, "offset": -25, "labelOverlap": false}}}},
 {"data": {"name": "labels"}, "transform": [{"filter": "datum.p == 'b'"}], "mark": {"type": "text", "fontSize": 9, "fontWeight": "bold", "color": "#000"},
  "encoding": {"x": {"field": "e", "type": "quantitative"}, "y": {"field": "c", "type": "quantitative"}, "text": {"field": "t"}}},
 {"data": {"values": [{}]}, "mark": {"type": "text", "align": "left", "baseline": "middle", "fontSize": 9.5, "fontWeight": "bold", "color": "#000"},
  "encoding": {"x": {"datum": -0.688, "type": "quantitative"}, "y": {"datum": 639.1, "type": "quantitative"}, "text": {"value": "c:\\edax32\\genesis\\genspc.spc\u00a0 18-Jun-2023 14:30:13"}}},
 {"data": {"values": [{}]}, "mark": {"type": "text", "align": "left", "baseline": "middle", "fontSize": 9.5, "fontWeight": "bold", "color": "#000"},
  "encoding": {"x": {"datum": 4.954, "type": "quantitative"}, "y": {"datum": 620.1, "type": "quantitative"}, "text": {"value": "LSecs : 10"}}},
 {"data": {"values": [{}]}, "mark": {"type": "text", "align": "center", "baseline": "middle", "font": "Liberation Serif", "fontSize": 72, "fill": "#ffffff", "stroke": "#a9cbec", "strokeWidth": 5, "strokeOpacity": 0.7},
  "encoding": {"x": {"datum": 14.16, "type": "quantitative"}, "y": {"datum": 706.9, "type": "quantitative"}, "text": {"value": "(b)"}}},
 {"data": {"values": [{}]}, "mark": {"type": "text", "align": "center", "baseline": "middle", "font": "Liberation Serif", "fontSize": 72, "fill": "#ffffff", "stroke": "#4f8fd0", "strokeWidth": 1.3},
  "encoding": {"x": {"datum": 14.16, "type": "quantitative"}, "y": {"datum": 706.9, "type": "quantitative"}, "text": {"value": "(b)"}}}
]},
{"width": 436, "height": 338, "layer": [
 {"data": {"name": "C"}, "mark": {"type": "line", "color": "#d00000", "strokeWidth": 1},
  "encoding": {"x": {"field": "e", "type": "quantitative", "scale": {"domain": [0, 10.16], "range": [24.5, 436], "nice": false, "zero": false}, "axis": {"values": [1,2,3,4,5,6,7,8,9], "tickCount": 20, "format": ".2f", "title": "Energy - keV", "offset": -30, "titleX": 216, "labelOverlap": false}},
   "y": {"field": "c", "type": "quantitative", "scale": {"domain": [0, 301], "range": [308, 33], "nice": false, "zero": false}, "axis": {"values": [0,60,120,180,241,301], "tickCount": 10, "format": "d", "title": null, "offset": -26, "labelOverlap": false}}}},
 {"data": {"name": "labels"}, "transform": [{"filter": "datum.p == 'c'"}], "mark": {"type": "text", "fontSize": 9, "fontWeight": "bold", "color": "#000"},
  "encoding": {"x": {"field": "e", "type": "quantitative"}, "y": {"field": "c", "type": "quantitative"}, "text": {"field": "t"}}},
 {"data": {"values": [{}]}, "mark": {"type": "text", "align": "left", "baseline": "middle", "fontSize": 9.5, "fontWeight": "bold", "color": "#000"},
  "encoding": {"x": {"datum": -0.543, "type": "quantitative"}, "y": {"datum": 330.6, "type": "quantitative"}, "text": {"value": "c:\\edax32\\genesis\\genspc.spc\u00a0 18-Jun-2023 15:17:32"}}},
 {"data": {"values": [{}]}, "mark": {"type": "text", "align": "left", "baseline": "middle", "fontSize": 9.5, "fontWeight": "bold", "color": "#000"},
  "encoding": {"x": {"datum": 4.012, "type": "quantitative"}, "y": {"datum": 320.7, "type": "quantitative"}, "text": {"value": "LSecs : 10"}}},
 {"data": {"values": [{}]}, "mark": {"type": "text", "align": "center", "baseline": "middle", "font": "Liberation Serif", "fontSize": 72, "fill": "#ffffff", "stroke": "#a9cbec", "strokeWidth": 5, "strokeOpacity": 0.7},
  "encoding": {"x": {"datum": -1.864, "type": "quantitative"}, "y": {"datum": 340.4, "type": "quantitative"}, "text": {"value": "(c)"}}},
 {"data": {"values": [{}]}, "mark": {"type": "text", "align": "center", "baseline": "middle", "font": "Liberation Serif", "fontSize": 72, "fill": "#ffffff", "stroke": "#4f8fd0", "strokeWidth": 1.3},
  "encoding": {"x": {"datum": -1.864, "type": "quantitative"}, "y": {"datum": 340.4, "type": "quantitative"}, "text": {"value": "(c)"}}}
]},
{"width": 434, "height": 338, "layer": [
 {"data": {"name": "D"}, "mark": {"type": "line", "color": "#d00000", "strokeWidth": 1},
  "encoding": {"x": {"field": "e", "type": "quantitative", "scale": {"domain": [0, 9.76], "range": [26, 434], "nice": false, "zero": false}, "axis": {"values": [1,2,3,4,5,6,7,8,9], "tickCount": 20, "format": ".2f", "title": "Energy - keV", "offset": -30, "titleX": 217, "labelOverlap": false}},
   "y": {"field": "c", "type": "quantitative", "scale": {"domain": [0, 521], "range": [308, 33], "nice": false, "zero": false}, "axis": {"values": [0,104,208,312,416,521], "tickCount": 10, "format": "d", "title": null, "offset": -25, "labelOverlap": false}}}},
 {"data": {"name": "labels"}, "transform": [{"filter": "datum.p == 'd'"}], "mark": {"type": "text", "fontSize": 9, "fontWeight": "bold", "color": "#000"},
  "encoding": {"x": {"field": "e", "type": "quantitative"}, "y": {"field": "c", "type": "quantitative"}, "text": {"field": "t"}}},
 {"data": {"values": [{}]}, "mark": {"type": "text", "align": "left", "baseline": "middle", "fontSize": 9.5, "fontWeight": "bold", "color": "#000"},
  "encoding": {"x": {"datum": -0.562, "type": "quantitative"}, "y": {"datum": 572.2, "type": "quantitative"}, "text": {"value": "c:\\edax32\\genesis\\genspc.spc\u00a0 18-Jun-2023 15:28:40"}}},
 {"data": {"values": [{}]}, "mark": {"type": "text", "align": "left", "baseline": "middle", "fontSize": 9.5, "fontWeight": "bold", "color": "#000"},
  "encoding": {"x": {"datum": 3.852, "type": "quantitative"}, "y": {"datum": 555.1, "type": "quantitative"}, "text": {"value": "LSecs : 10"}}},
 {"data": {"values": [{}]}, "mark": {"type": "text", "align": "center", "baseline": "middle", "font": "Liberation Serif", "fontSize": 72, "fill": "#ffffff", "stroke": "#a9cbec", "strokeWidth": 5, "strokeOpacity": 0.7},
  "encoding": {"x": {"datum": 11.077, "type": "quantitative"}, "y": {"datum": 585.4, "type": "quantitative"}, "text": {"value": "(d)"}}},
 {"data": {"values": [{}]}, "mark": {"type": "text", "align": "center", "baseline": "middle", "font": "Liberation Serif", "fontSize": 72, "fill": "#ffffff", "stroke": "#4f8fd0", "strokeWidth": 1.3},
  "encoding": {"x": {"datum": 11.077, "type": "quantitative"}, "y": {"datum": 585.4, "type": "quantitative"}, "text": {"value": "(d)"}}}
]},
{"width": 436, "height": 338, "layer": [
 {"data": {"name": "E"}, "mark": {"type": "line", "color": "#d00000", "strokeWidth": 1},
  "encoding": {"x": {"field": "e", "type": "quantitative", "scale": {"domain": [0, 10.44], "range": [26.6, 436], "nice": false, "zero": false}, "axis": {"values": [1,2,3,4,5,6,7,8,9,10], "tickCount": 20, "format": ".2f", "title": "Energy - keV", "offset": -30, "titleX": 216, "labelOverlap": false}},
   "y": {"field": "c", "type": "quantitative", "scale": {"domain": [0, 424], "range": [308, 33], "nice": false, "zero": false}, "axis": {"values": [0,84,169,254,339,424], "tickCount": 10, "format": "d", "title": null, "offset": -26.6, "labelOverlap": false}}}},
 {"data": {"name": "labels"}, "transform": [{"filter": "datum.p == 'e'"}], "mark": {"type": "text", "fontSize": 9, "fontWeight": "bold", "color": "#000"},
  "encoding": {"x": {"field": "e", "type": "quantitative"}, "y": {"field": "c", "type": "quantitative"}, "text": {"field": "t"}}},
 {"data": {"values": [{}]}, "mark": {"type": "text", "align": "left", "baseline": "middle", "fontSize": 9.5, "fontWeight": "bold", "color": "#000"},
  "encoding": {"x": {"datum": -0.615, "type": "quantitative"}, "y": {"datum": 465.6, "type": "quantitative"}, "text": {"value": "c:\\edax32\\genesis\\genspc.spc\u00a0 18-Jun-2023 14:53:12"}}},
 {"data": {"values": [{}]}, "mark": {"type": "text", "align": "left", "baseline": "middle", "fontSize": 9.5, "fontWeight": "bold", "color": "#000"},
  "encoding": {"x": {"datum": 4.092, "type": "quantitative"}, "y": {"datum": 451.8, "type": "quantitative"}, "text": {"value": "LSecs : 10"}}},
 {"data": {"values": [{}]}, "mark": {"type": "text", "align": "center", "baseline": "middle", "font": "Liberation Serif", "fontSize": 72, "fill": "#ffffff", "stroke": "#a9cbec", "strokeWidth": 5, "strokeOpacity": 0.7},
  "encoding": {"x": {"datum": -2.107, "type": "quantitative"}, "y": {"datum": 487.2, "type": "quantitative"}, "text": {"value": "(e)"}}},
 {"data": {"values": [{}]}, "mark": {"type": "text", "align": "center", "baseline": "middle", "font": "Liberation Serif", "fontSize": 72, "fill": "#ffffff", "stroke": "#4f8fd0", "strokeWidth": 1.3},
  "encoding": {"x": {"datum": -2.107, "type": "quantitative"}, "y": {"datum": 487.2, "type": "quantitative"}, "text": {"value": "(e)"}}}
]},
{"width": 434, "height": 338, "layer": [
 {"data": {"name": "F"}, "mark": {"type": "line", "color": "#d00000", "strokeWidth": 1},
  "encoding": {"x": {"field": "e", "type": "quantitative", "scale": {"domain": [0, 19.43], "range": [26, 434], "nice": false, "zero": false}, "axis": {"values": [2,4,6,8,10,12,14,16,18], "tickCount": 20, "format": ".2f", "title": "Energy - keV", "offset": -30, "titleX": 217, "labelOverlap": false}},
   "y": {"field": "c", "type": "quantitative", "scale": {"domain": [0, 488], "range": [308, 33], "nice": false, "zero": false}, "axis": {"values": [0,97,195,293,390,488], "tickCount": 10, "format": "d", "title": null, "offset": -26, "labelOverlap": false}}}},
 {"data": {"name": "labels"}, "transform": [{"filter": "datum.p == 'f'"}], "mark": {"type": "text", "fontSize": 9, "fontWeight": "bold", "color": "#000"},
  "encoding": {"x": {"field": "e", "type": "quantitative"}, "y": {"field": "c", "type": "quantitative"}, "text": {"field": "t"}}},
 {"data": {"values": [{}]}, "mark": {"type": "text", "align": "left", "baseline": "middle", "fontSize": 9.5, "fontWeight": "bold", "color": "#000"},
  "encoding": {"x": {"datum": -1.119, "type": "quantitative"}, "y": {"datum": 535.9, "type": "quantitative"}, "text": {"value": "c:\\edax32\\genesis\\genspc.spc\u00a0 18-Jun-2023 15:03:55"}}},
 {"data": {"values": [{}]}, "mark": {"type": "text", "align": "left", "baseline": "middle", "fontSize": 9.5, "fontWeight": "bold", "color": "#000"},
  "encoding": {"x": {"datum": 7.667, "type": "quantitative"}, "y": {"datum": 519.9, "type": "quantitative"}, "text": {"value": "LSecs : 10"}}},
 {"data": {"values": [{}]}, "mark": {"type": "text", "align": "center", "baseline": "middle", "font": "Liberation Serif", "fontSize": 72, "fill": "#ffffff", "stroke": "#a9cbec", "strokeWidth": 5, "strokeOpacity": 0.7},
  "encoding": {"x": {"datum": 22.05, "type": "quantitative"}, "y": {"datum": 559.0, "type": "quantitative"}, "text": {"value": "(f)"}}},
 {"data": {"values": [{}]}, "mark": {"type": "text", "align": "center", "baseline": "middle", "font": "Liberation Serif", "fontSize": 72, "fill": "#ffffff", "stroke": "#4f8fd0", "strokeWidth": 1.3},
  "encoding": {"x": {"datum": 22.05, "type": "quantitative"}, "y": {"datum": 559.0, "type": "quantitative"}, "text": {"value": "(f)"}}}
]}
]
}
